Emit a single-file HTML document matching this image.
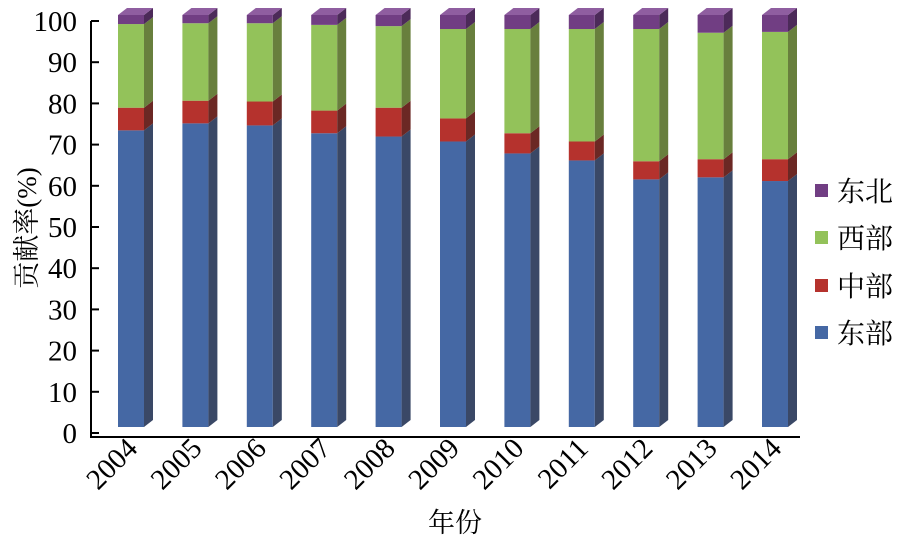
<!DOCTYPE html>
<html><head><meta charset="utf-8">
<style>
html,body{margin:0;padding:0;background:#fff;}
svg{display:block;font-family:"Liberation Serif","Noto Serif CJK SC","Noto Sans CJK SC",serif;}
</style></head>
<body>
<svg id="chart" width="900" height="542" viewBox="0 0 900 542" xmlns="http://www.w3.org/2000/svg">
<g id="axes"></g>
<g id="bars"></g>
<g id="legend"></g>
<text transform="translate(36,228) rotate(-90)" text-anchor="middle" font-size="27" font-family="'Liberation Serif','Noto Serif CJK SC',serif">贡献率(%)</text>
<text x="455" y="532" text-anchor="middle" font-size="27" font-family="'Liberation Serif','Noto Serif CJK SC',serif">年份</text>
</svg>
<script>
const years=["2004","2005","2006","2007","2008","2009","2010","2011","2012","2013","2014"];
const east=[72,73.7,73.2,71.3,70.5,69.3,66.4,64.7,60.1,60.6,59.7];
const central=[5.5,5.5,5.8,5.5,7,5.6,4.9,4.6,4.4,4.4,5.3];
const west=[20.3,18.8,19,20.8,19.8,21.7,25.3,27.3,32.1,30.7,30.9];
const northeast=[2.2,2,2,2.4,2.7,3.4,3.4,3.4,3.4,4.3,4.1];
const yTicks=[0,10,20,30,40,50,60,70,80,90,100];
const seriesNames=["东部","中部","西部","东北"];

const NS="http://www.w3.org/2000/svg";
function yScale(v){return 433-4.12*v;}
function xScale(i){return 118+i*64.4;}
const barW=26,dx=9,dy=7,front=-6;
const cols=[["#4568a4","#3a4866","#6c8cc4"],["#b5322d","#6b2824","#cf5e58"],["#93c25a","#687f3d","#b1d584"],["#713e83","#4c2a59","#8f5ea0"]];
function el(t,a,p){const e=document.createElementNS(NS,t);for(const k in a)e.setAttribute(k,a[k]);p.appendChild(e);return e;}

const axes=document.getElementById('axes');
let ax=el('line',{x1:91,y1:yScale(100),x2:91,y2:437,stroke:'#000','stroke-width':2},axes);


let bx=el('line',{x1:90,y1:437,x2:800,y2:437,stroke:'#000','stroke-width':2},axes);


yTicks.forEach(t=>{
  const y=yScale(t);
  const tk=el('line',{x1:91,y1:y,x2:99,y2:y,stroke:'#000','stroke-width':2},axes);
  
  
  const lb=el('text',{x:77,y:y+10,'text-anchor':'end','font-size':29},axes);
  lb.textContent=t;
  
  
});

const bars=document.getElementById('bars');
const series=[east,central,west,northeast];
years.forEach((yr,i)=>{
  const x=xScale(i);
  let cum=0;
  series.forEach((s,k)=>{
    const v=s[i];
    const yb=yScale(cum)+front, yt=yScale(cum+v)+front;
    cum+=v;
    const g=el('g',{},bars);
    
    
    el('rect',{x:x,y:yt,width:barW,height:Math.max(0,yb-yt),fill:cols[k][0]},g);
    el('polygon',{points:`${x+barW},${yt} ${x+barW+dx},${yt-dy} ${x+barW+dx},${yb-dy} ${x+barW},${yb}`,fill:cols[k][1]},g);
    if(k===3){
      el('polygon',{points:`${x},${yt} ${x+dx},${yt-dy} ${x+barW+dx},${yt-dy} ${x+barW},${yt}`,fill:cols[k][2]},g);
    }
  });
  const lx=x+barW/2+8, ly=450;
  const t=el('text',{x:lx,y:ly,'text-anchor':'end','font-size':29,transform:`rotate(-45 ${lx} ${ly})`},bars);
  t.textContent=yr;
  
  
});

const legend=document.getElementById('legend');
const legY=[191,238,286,333];
[3,2,1,0].forEach((k,j)=>{
  const g=el('g',{},legend);
  
  
  el('rect',{x:815,y:legY[j]-7,width:13,height:13,fill:cols[k][0]},g);
  const t=el('text',{x:837,y:legY[j]+10,'font-size':28,'font-family':"'Liberation Serif','Noto Serif CJK SC',serif"},g);
  t.textContent=seriesNames[k];
});
</script>
</body></html>
